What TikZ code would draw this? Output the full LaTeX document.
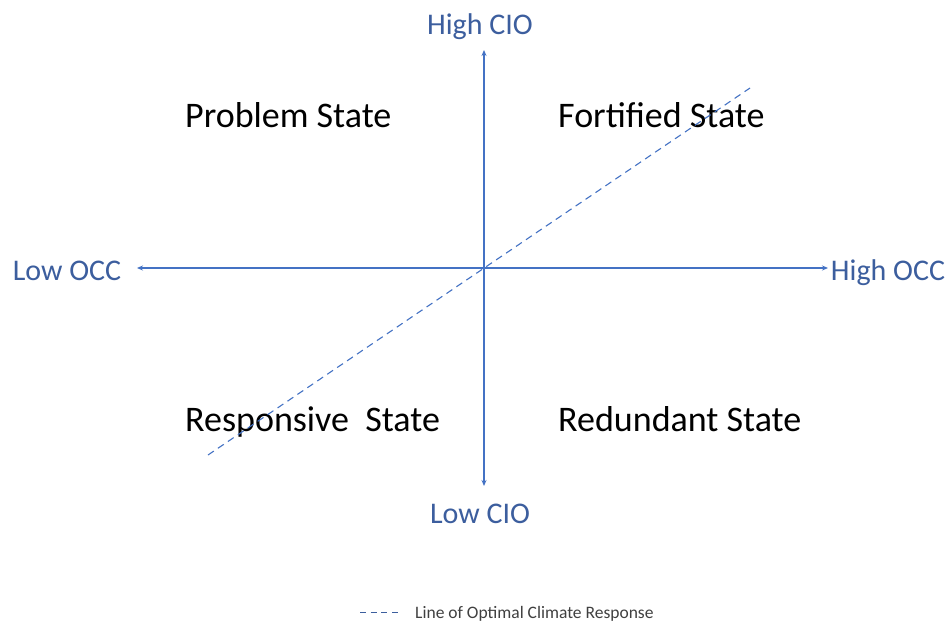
\documentclass[tikz,border=0pt]{standalone}
\usepackage{fontspec}
\setmainfont{Carlito}
\usetikzlibrary{arrows.meta}
\definecolor{axisblue}{RGB}{68,114,196}
\definecolor{labelblue}{RGB}{60,94,158}
\definecolor{legendgray}{RGB}{64,64,64}
\tikzset{
  axis/.style={draw=axisblue, line width=1.3pt, -{Stealth[length=6pt,width=5pt]}},
  optimal/.style={draw=axisblue, line width=1.1pt, dash pattern=on 7pt off 5pt},
  axislabel/.style={text=labelblue, font=\fontsize{30}{30}\selectfont, inner sep=0pt, anchor=base},
  statelabel/.style={text=black, font=\fontsize{36}{36}\selectfont, inner sep=0pt, anchor=base west},
  legendtext/.style={text=legendgray, font=\fontsize{17.5}{17.5}\selectfont, inner sep=0pt, anchor=base west},
}
\begin{document}
\begin{tikzpicture}[x=1pt,y=-1pt]
  \useasboundingbox[fill=white] (0,0) rectangle (952,622);

  % axis end points
  \coordinate (origin) at (484,268);
  \coordinate (top) at (484,50);
  \coordinate (bottom) at (484,486);
  \coordinate (left) at (137,268);
  \coordinate (right) at (828,268);

  % axis labels
  \node[axislabel] (hcio) at (480,34) {High CIO};
  \node[axislabel] (lcio) at (480,523) {Low CIO};
  \node[axislabel] (locc) at (67,280) {Low OCC};
  \node[axislabel] (hocc) at (888,280) {High OCC};

  % quadrant labels
  \node[statelabel] (problem) at (185,127) {Problem State};
  \node[statelabel] (fortified) at (558,127) {Fortified State};
  \node[statelabel] (responsive) at (185,431) {Responsive\ \ State};
  \node[statelabel] (redundant) at (558,431) {Redundant State};

  % axes
  \draw[axis] (origin) -- (top);
  \draw[axis] (origin) -- (bottom);
  \draw[axis] (origin) -- (left);
  \draw[axis] (origin) -- (right);

  % line of optimal climate response
  \coordinate (optlow) at (208,455);
  \coordinate (opthigh) at (750,88);
  \draw[optimal] (optlow) -- (opthigh);

  % legend
  \coordinate (legA) at (360,612);
  \coordinate (legB) at (398,612);
  \draw[draw=labelblue, line width=0.9pt, dash pattern=on 6pt off 4.7pt] (legA) -- (legB);
  \node[legendtext] (legend) at (415,618) {Line of Optimal Climate Response};
\end{tikzpicture}
\end{document}
